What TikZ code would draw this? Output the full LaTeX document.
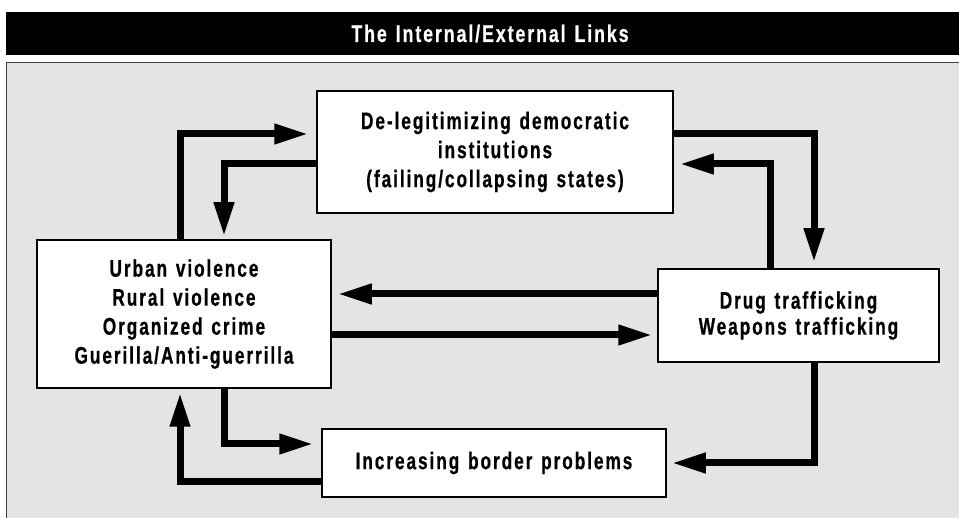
\documentclass[tikz,border=0pt]{standalone}
\usepackage{fontspec}
\setmainfont{Liberation Sans}[FakeStretch=0.72,LetterSpace=8,WordSpace=1.3,BoldFeatures={FakeBold=0.6}]
\newfontfamily\titlefont{Liberation Sans}[FakeStretch=0.74,LetterSpace=8,WordSpace=1.3,BoldFeatures={FakeBold=0.6}]
\usetikzlibrary{positioning,arrows.meta}
\definecolor{panelgray}{HTML}{E4E4E4}
\tikzset{
  x=1pt, y=-1pt,
  box/.style={draw, line width=1.5pt, fill=white, align=center, inner sep=0pt,
    font=\bfseries\fontsize{24}{29}\selectfont},
  link/.style={line width=7pt, line join=miter, -{Triangle[length=34pt,width=19pt]}},
}
\begin{document}
\begin{tikzpicture}
\useasboundingbox (0,0) rectangle (959,518);
\fill (6,11.7) rectangle (959,55);
\node[text=white, font=\titlefont\bfseries\fontsize{24}{24}\selectfont] (title) at (490,33.5) {The Internal/External Links};
\draw[fill=panelgray, draw=black!75, line width=1.2pt] (6.5,62.5) rectangle (965,525);

\node[box, minimum width=356pt, minimum height=122pt] (delegit) at (495,152)
  {De-legitimizing democratic\\institutions\\(failing/collapsing states)};
\node[box, minimum width=294pt, minimum height=148pt] (urban) at (184,314)
  {Urban violence\\Rural violence\\Organized crime\\Guerilla/Anti-guerrilla};
\node[box, minimum width=281pt, minimum height=93pt, font=\bfseries\fontsize{24}{26}\selectfont] (drugs) at (798.5,315.5)
  {Drug trafficking\\Weapons trafficking};
\node[box, minimum width=344pt, minimum height=68pt] (border) at (494,463)
  {Increasing border problems};

\draw[link, shorten >=8pt] ([xshift=-4pt]urban.north) |- ([yshift=18pt]delegit.west);
\draw[link, shorten >=3pt] ([yshift=-12pt]delegit.west) -| ([xshift=40pt]urban.north);
\draw[link, shorten >=6pt] ([yshift=18pt]delegit.east) -| ([xshift=15.5pt]drugs.north);
\draw[link, shorten >=6pt] ([xshift=-28.5pt]drugs.north) |- ([yshift=-12pt]delegit.east);
\draw[link, shorten >=6pt] ([yshift=21.5pt]drugs.west) -- ([yshift=21.5pt]drugs.west -| urban.east);
\draw[link, shorten >=5pt] ([yshift=-21pt]urban.east) -- ([yshift=-21pt]urban.east -| drugs.west);
\draw[link, shorten >=5pt] ([xshift=15.5pt]drugs.south) |- (border.east);
\draw[link, shorten >=8pt] ([xshift=40pt]urban.south) |- ([yshift=19pt]border.west);
\draw[link, shorten >=4pt] ([yshift=-19pt]border.west) -| ([xshift=-4pt]urban.south);
\end{tikzpicture}
\end{document}
